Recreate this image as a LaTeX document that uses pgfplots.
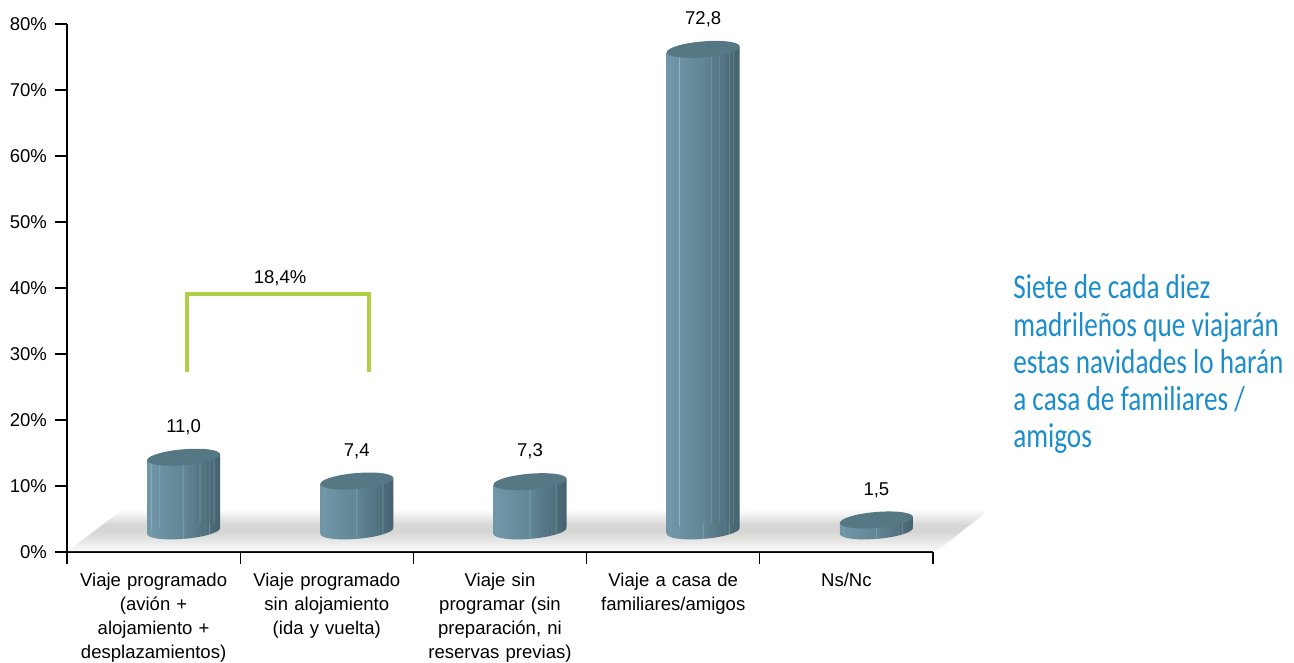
\documentclass[border=0pt]{standalone}
\usepackage{fontspec}
\setmainfont{Liberation Sans}
\newfontfamily\notefont[FakeStretch=0.785]{Carlito}
\usepackage{pgfplots}
\pgfplotsset{compat=1.18}
\usepackage{pgfplotstable}

% 1 reference pixel = 0.75pt

\definecolor{cyltop}{HTML}{567885}
\definecolor{bracket}{HTML}{AFD044}
\definecolor{notecol}{HTML}{1B8DCB}

% cylinder side, with the thin light facets
\pgfdeclarehorizontalshading{cylside}{100bp}{
rgb(0bp)=(.44,.59,.66); rgb(25bp)=(.44,.59,.66);
rgb(27.2bp)=(.435,.585,.653); rgb(27.5bp)=(.58,.72,.77); rgb(27.8bp)=(.435,.585,.653);
rgb(33.2bp)=(.421,.571,.637); rgb(33.5bp)=(.62,.76,.81); rgb(33.8bp)=(.421,.571,.637);
rgb(49.2bp)=(.381,.528,.588); rgb(49.5bp)=(.58,.72,.77); rgb(49.8bp)=(.381,.528,.588);
rgb(55.2bp)=(.355,.493,.551); rgb(55.5bp)=(.54,.67,.72); rgb(55.8bp)=(.355,.493,.551);
rgb(60.7bp)=(.331,.461,.517); rgb(61bp)=(.50,.63,.68); rgb(61.3bp)=(.331,.461,.517);
rgb(64.2bp)=(.316,.441,.495); rgb(64.5bp)=(.47,.60,.65); rgb(64.8bp)=(.316,.441,.495);
rgb(67.2bp)=(.303,.424,.476); rgb(67.5bp)=(.45,.57,.62); rgb(67.8bp)=(.303,.424,.476);
rgb(70.2bp)=(.29,.406,.458); rgb(70.5bp)=(.42,.53,.58); rgb(70.8bp)=(.29,.406,.458);
rgb(75bp)=(.27,.38,.43); rgb(100bp)=(.27,.38,.43)}

% floor: white at the back, grey band, nearly white at the front
\pgfdeclareverticalshading{floorband}{100bp}{
rgb(0bp)=(.98,.98,.98); rgb(25bp)=(.98,.98,.98);
rgb(48bp)=(.84,.84,.835); rgb(56bp)=(.84,.84,.835);
rgb(75bp)=(1,1,1); rgb(100bp)=(1,1,1)}

\pgfdeclareplotmark{cylcap}{%
  \pgfsetfillcolor{cyltop}%
  \pgfpathellipse{\pgfpointorigin}{\pgfqpoint{27.375pt}{2.19pt}}{\pgfqpoint{0pt}{6pt}}%
  \pgfusepathqfill}
\pgfdeclareplotmark{cylfoot}{%
  \pgfpathellipse{\pgfpointorigin}{\pgfqpoint{27.375pt}{2.19pt}}{\pgfqpoint{0pt}{6pt}}%
  \pgfshadepath{cylside}{0}%
  \pgfusepath{discard}}

\pgfplotsset{
  cylbar/.style={ybar, bar width=54.75pt, bar shift=0pt, draw=none, shading=cylside,
    forget plot, xshift=22.5pt},
}

\begin{document}
\begin{tikzpicture}
\path[use as bounding box] (0,0) rectangle (970.5pt,497.25pt);
\begin{axis}[
  at={(50.25pt,83.25pt)}, anchor=south west,
  scale only axis, width=649.5pt, height=396pt,
  xmin=-0.5, xmax=4.5, ymin=0, ymax=80,
  axis x line=bottom, axis y line=left,
  axis line style={-, black, line width=0.95pt},
  clip=false,
  font=\fontsize{13.9}{18}\selectfont,
  /pgf/number format/assume math mode=true,
  ytick={0,10,...,80},
  yticklabel={\pgfmathprintnumber{\tick}\%},
  xtick={0,1,2,3,4},
  xticklabels={
    {Viaje programado\\(avión +\\alojamiento +\\desplazamientos)},
    {Viaje programado\\sin alojamiento\\(ida y vuelta)},
    {Viaje sin\\programar (sin\\preparación, ni\\reservas previas)},
    {Viaje a casa de\\familiares/amigos},
    {Ns/Nc}},
  minor xtick={-0.5,0.5,...,4.5},
  tick align=outside,
  major tick length=9pt, minor tick length=9pt,
  y tick style={black, line width=0.95pt},
  minor x tick style={black, line width=0.95pt},
  major x tick style={draw=none},
  xticklabel style={align=center, text width=124pt, anchor=north, yshift=-3.5pt,
    font=\fontsize{13.9}{18}\selectfont},
  yticklabel style={font=\fontsize{13.9}{18}\selectfont, xshift=-2.5pt},
]
% floor
\addplot[draw=none, shading=floorband, forget plot]
  coordinates {(-0.494,0.15) (-0.177,6.5) (4.829,6.5) (4.523,0.15)} --cycle;

% feet of the cylinders
\addplot[only marks, mark=cylfoot, xshift=22.5pt, yshift=15.84pt, forget plot]
  coordinates {(0,0) (1,0) (2,0) (3,0) (4,0)};

% bodies
\addplot[cylbar, yshift=11.39pt, yslant=0.08] coordinates {(0,11.0)};
\addplot[cylbar, yshift=1.01pt, yslant=0.08] coordinates {(1,7.4)};
\addplot[cylbar, yshift=-9.39pt, yslant=0.08] coordinates {(2,7.3)};
\addplot[cylbar, yshift=-19.79pt, yslant=0.08] coordinates {(3,72.8)};
\addplot[cylbar, yshift=-30.17pt, yslant=0.08] coordinates {(4,1.5)};

% caps and value labels
\addplot[only marks, mark=cylcap, xshift=22.5pt, yshift=16.59pt,
  nodes near coords,
  nodes near coords style={black, anchor=center, yshift=22.5pt,
    /pgf/number format/.cd, fixed, fixed zerofill, precision=1, use comma},
  ] coordinates {(0,11.0) (1,7.4) (2,7.3) (3,72.8) (4,1.5)};

% bracket over the two programmed trips
\addplot[bracket, line width=2.5pt, sharp plot, no marks]
  coordinates {(0.193,27.3) (0.193,39.1) (1.244,39.1) (1.244,27.3)};
\node[font=\fontsize{13.9}{18}\selectfont] at (axis cs:0.73,41.5) {18,4\%};
\end{axis}
\node[anchor=north west, align=left, text=notecol, inner sep=0pt,
  font=\notefont\fontsize{26}{27.9}\selectfont] at (759.75pt,291.25pt)
  {Siete de cada diez\\madrileños que viajarán\\estas navidades lo harán\\a casa de familiares /\\amigos};
\end{tikzpicture}
\end{document}
